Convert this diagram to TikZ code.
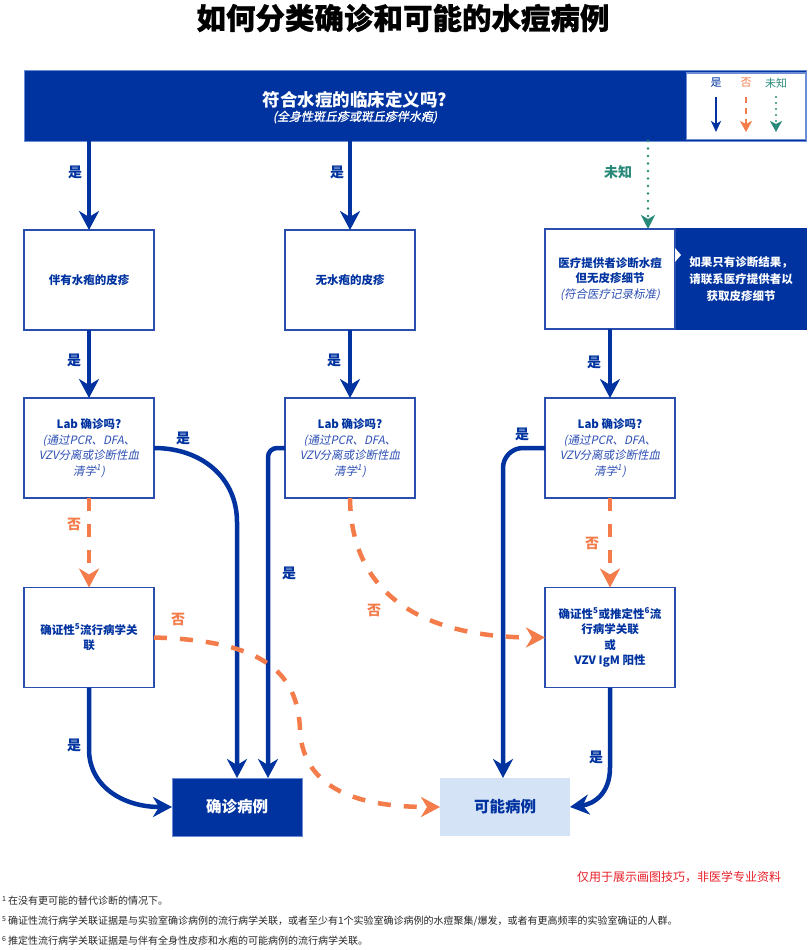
\documentclass[tikz,border=0pt]{standalone}
\usepackage{fontspec}
\setmainfont{Noto Sans CJK SC}[ItalicFont=Noto Sans CJK SC, ItalicFeatures={FakeSlant=0.2}, BoldItalicFont=Noto Sans CJK SC, BoldItalicFeatures={FakeSlant=0.2, FakeBold=1.2}]
\usetikzlibrary{arrows.meta,calc}
\definecolor{navy}{HTML}{0033A0}
\definecolor{bordlight}{HTML}{6C8CD5}
\definecolor{boxline}{HTML}{2A4DB0}
\definecolor{ittxt}{HTML}{2E50B4}
\definecolor{orng}{HTML}{F47C4A}
\definecolor{tealc}{HTML}{2A8A7A}
\definecolor{lightbox}{HTML}{D5E3F6}
\definecolor{redtxt}{HTML}{E8202A}
\newcommand{\fnsup}[1]{\raisebox{3.2pt}{\fontsize{7}{8}\selectfont #1}}
\begin{document}
\begin{tikzpicture}[x=1pt,y=-1pt,
  every node/.style={inner sep=0pt, outer sep=0pt},
  wbox/.style={draw=boxline, line width=1.8pt, fill=white, minimum width=130pt, minimum height=100pt, align=center, text=navy, font=\fontsize{11.5}{15.5}\selectfont\bfseries},
  yesarrow/.style={draw=navy, line width=4.5pt, -{Stealth[length=19pt,width=20pt,inset=6pt]}},
  noarrow/.style={draw=orng, line width=4.5pt, dash pattern=on 13pt off 13pt, -{Stealth[length=19pt,width=20pt,inset=6pt]}},
  unkarrow/.style={draw=tealc, line width=2.6pt, line cap=round, dash pattern=on 0pt off 7.5pt, -{Stealth[length=14pt,width=14pt,inset=4pt]}},
  lblyes/.style={text=navy, font=\fontsize{14}{16}\selectfont\bfseries},
  lblno/.style={text=orng, font=\fontsize{14}{16}\selectfont\bfseries},
  lblunk/.style={text=tealc, font=\fontsize{14}{16}\selectfont\bfseries},
  legtxt/.style={font=\fontsize{11}{13}\selectfont},
  foot/.style={anchor=west, text=black!85, font=\fontsize{10}{12}\selectfont},
  casebox/.style={minimum width=130pt, minimum height=58pt, font=\fontsize{15.5}{18}\selectfont\bfseries}
]
\useasboundingbox (0,0) rectangle (807,950);
\fill[white] (0,0) rectangle (807,950);

% title
\node[font=\fontsize{29.5}{34}\selectfont\bfseries\addfontfeature{FakeBold=0.8}, text=black] (title) at (403,18) {如何分类确诊和可能的水痘病例};

% banner
\node[fill=navy, draw=bordlight, line width=1pt, minimum width=782pt, minimum height=70pt] (banner) at (415,106) {};
\node[text=white, font=\fontsize{17.5}{20}\selectfont\bfseries] (bq) at (355,100) {符合水痘的临床定义吗?};
\node[text=white, font=\fontsize{12}{14}\selectfont\bfseries\itshape] (bsub) at (355,117) {(全身性斑丘疹或斑丘疹伴水疱)};

% legend
\node[fill=white, draw=bordlight, line width=1pt, minimum width=119pt, minimum height=66pt] (legend) at (746,106) {};
\node[legtxt, text=navy] (lyes) at (716,83) {是};
\node[legtxt, text=orng] (lno) at (746,83) {否};
\node[legtxt, text=tealc] (lunk) at (776,83) {未知};
\coordinate (ly1) at (716,97); \coordinate (ly2) at (716,132);
\coordinate (ln1) at (746,97); \coordinate (ln2) at (746,132);
\coordinate (lu1) at (776,97); \coordinate (lu2) at (776,132);
\draw[draw=navy, line width=2.6pt, -{Stealth[length=11pt,width=10pt,inset=3pt]}] (ly1) -- (ly2);
\draw[draw=orng, line width=2.6pt, dash pattern=on 6pt off 5pt, -{Stealth[length=11pt,width=12pt,inset=3pt]}] (ln1) -- (ln2);
\draw[draw=tealc, line width=2.4pt, line cap=round, dash pattern=on 0pt off 6pt, -{Stealth[length=11pt,width=12pt,inset=3pt]}] (lu1) -- (lu2);

% row 1 boxes
\node[wbox] (box1) at (89,280) {伴有水疱的皮疹};
\node[wbox] (box2) at (350,280) {无水疱的皮疹};
\node[fill=navy, minimum width=132pt, minimum height=102pt] (note) at (741,279) {};
\node[wbox] (box3) at (610,279) {医疗提供者诊断水痘\\但无皮疹细节\\{\mdseries\itshape\color{ittxt}(符合医疗记录标准)}};
\fill[white] ($(box3.east)+(0,-31)$) -- ++(6,7) -- ++(-6,7) -- cycle;
\node[text=white, align=center, font=\fontsize{11.5}{17}\selectfont\bfseries] (notetxt) at (741,279) {如果只有诊断结果，\\请联系医疗提供者以\\获取皮疹细节};

% lab boxes
\node[wbox] (lab1) at (89,448) {Lab 确诊吗?\\{\mdseries\itshape\color{ittxt}(通过PCR、DFA、}\\{\mdseries\itshape\color{ittxt}VZV分离或诊断性血}\\{\mdseries\itshape\color{ittxt}清学\textsuperscript{1})}};
\node[wbox] (lab2) at (350,448) {Lab 确诊吗?\\{\mdseries\itshape\color{ittxt}(通过PCR、DFA、}\\{\mdseries\itshape\color{ittxt}VZV分离或诊断性血}\\{\mdseries\itshape\color{ittxt}清学\textsuperscript{1})}};
\node[wbox] (lab3) at (610,448) {Lab 确诊吗?\\{\mdseries\itshape\color{ittxt}(通过PCR、DFA、}\\{\mdseries\itshape\color{ittxt}VZV分离或诊断性血}\\{\mdseries\itshape\color{ittxt}清学\textsuperscript{1})}};

% epi boxes
\node[wbox] (epi1) at (89,637.5) {确证性\textsuperscript{5}流行病学关\\联};
\node[wbox] (epi3) at (610,637.5) {确证性\textsuperscript{5}或推定性\textsuperscript{6}流\\行病学关联\\或\\VZV IgM 阳性};

% case boxes
\node[casebox, fill=navy, draw=bordlight, line width=1pt, text=white] (conf) at (237,807) {确诊病例};
\node[casebox, fill=lightbox, text=navy] (poss) at (505,807) {可能病例};

% arrows from banner
\draw[yesarrow] (banner.south -| box1.north) -- (box1.north);
\draw[yesarrow] (banner.south -| box2.north) -- (box2.north);
\coordinate (u) at ($(box3.north)+(38,0)$);
\draw[unkarrow] (banner.south -| u) -- (u);
\node[lblyes] (t1) at (75,172) {是};
\node[lblyes] (t2) at (337,172) {是};
\node[lblunk] (t3) at (618,172) {未知};

% row 1 -> lab
\draw[yesarrow] (box1.south) -- (lab1.north);
\draw[yesarrow] (box2.south) -- (lab2.north);
\draw[yesarrow] (box3.south) -- (lab3.north);
\node[lblyes] (t4) at (74,360) {是};
\node[lblyes] (t5) at (334,360) {是};
\node[lblyes] (t6) at (594,362) {是};

% lab1 yes -> conf
\coordinate (c1) at (237,522);
\draw[yesarrow] (lab1.east) .. controls +(48,0) and +(0,-44) .. (c1) -- (conf.north);
\node[lblyes] (t7) at (183,438) {是};
% lab2 yes -> conf
\coordinate (c2) at ($(conf.north)+(31,0)$);
\draw[yesarrow, rounded corners=9pt] (lab2.west) -| (c2);
\node[lblyes] (t8) at (289,573) {是};
% lab3 yes -> poss
\coordinate (c3) at ($(poss.north)+(-2,0)$);
\draw[yesarrow, rounded corners=20pt] (lab3.west) -| (c3);
\node[lblyes] (t9) at (522,434) {是};

% lab no
\draw[noarrow] (lab1.south) -- (epi1.north);
\node[lblno] (t10) at (74,524) {否};
\draw[noarrow] (lab3.south) -- (epi3.north);
\node[lblno] (t11) at (592,543) {否};
\draw[noarrow] (lab2.south) .. controls +(1,102) and +(-115,0) .. (epi3.west);
\node[lblno] (t12) at (374,610) {否};

% epi1 no -> poss
\coordinate (m1) at (300,730);
\draw[noarrow] (epi1.east) .. controls +(106,3) and (298,670) .. (m1) .. controls (303,790) and (360,807) .. (poss.west);
\node[lblno] (t13) at (178,619) {否};

% epi yes
\draw[yesarrow] (epi1.south) -- ++(0,62) .. controls +(0,36) and +(-50,0) .. (conf.west);
\node[lblyes] (t14) at (74,745) {是};
\draw[yesarrow] (epi3.south) -- ++(0,80) .. controls +(0,26) and +(24,-3) .. (poss.east);
\node[lblyes] (t15) at (596,757) {是};

% notes
\node[anchor=east, text=redtxt, font=\fontsize{12}{14}\selectfont] (red) at (781,877) {仅用于展示画图技巧，非医学专业资料};
\node[foot] (fn1) at (2,901) {\fnsup{1} 在没有更可能的替代诊断的情况下。};
\node[foot] (fn5) at (2,921) {\fnsup{5} 确证性流行病学关联证据是与实验室确诊病例的流行病学关联，或者至少有1个实验室确诊病例的水痘聚集/爆发，或者有更高频率的实验室确证的人群。};
\node[foot] (fn6) at (2,941) {\fnsup{6} 推定性流行病学关联证据是与伴有全身性皮疹和水疱的可能病例的流行病学关联。};
\end{tikzpicture}
\end{document}
